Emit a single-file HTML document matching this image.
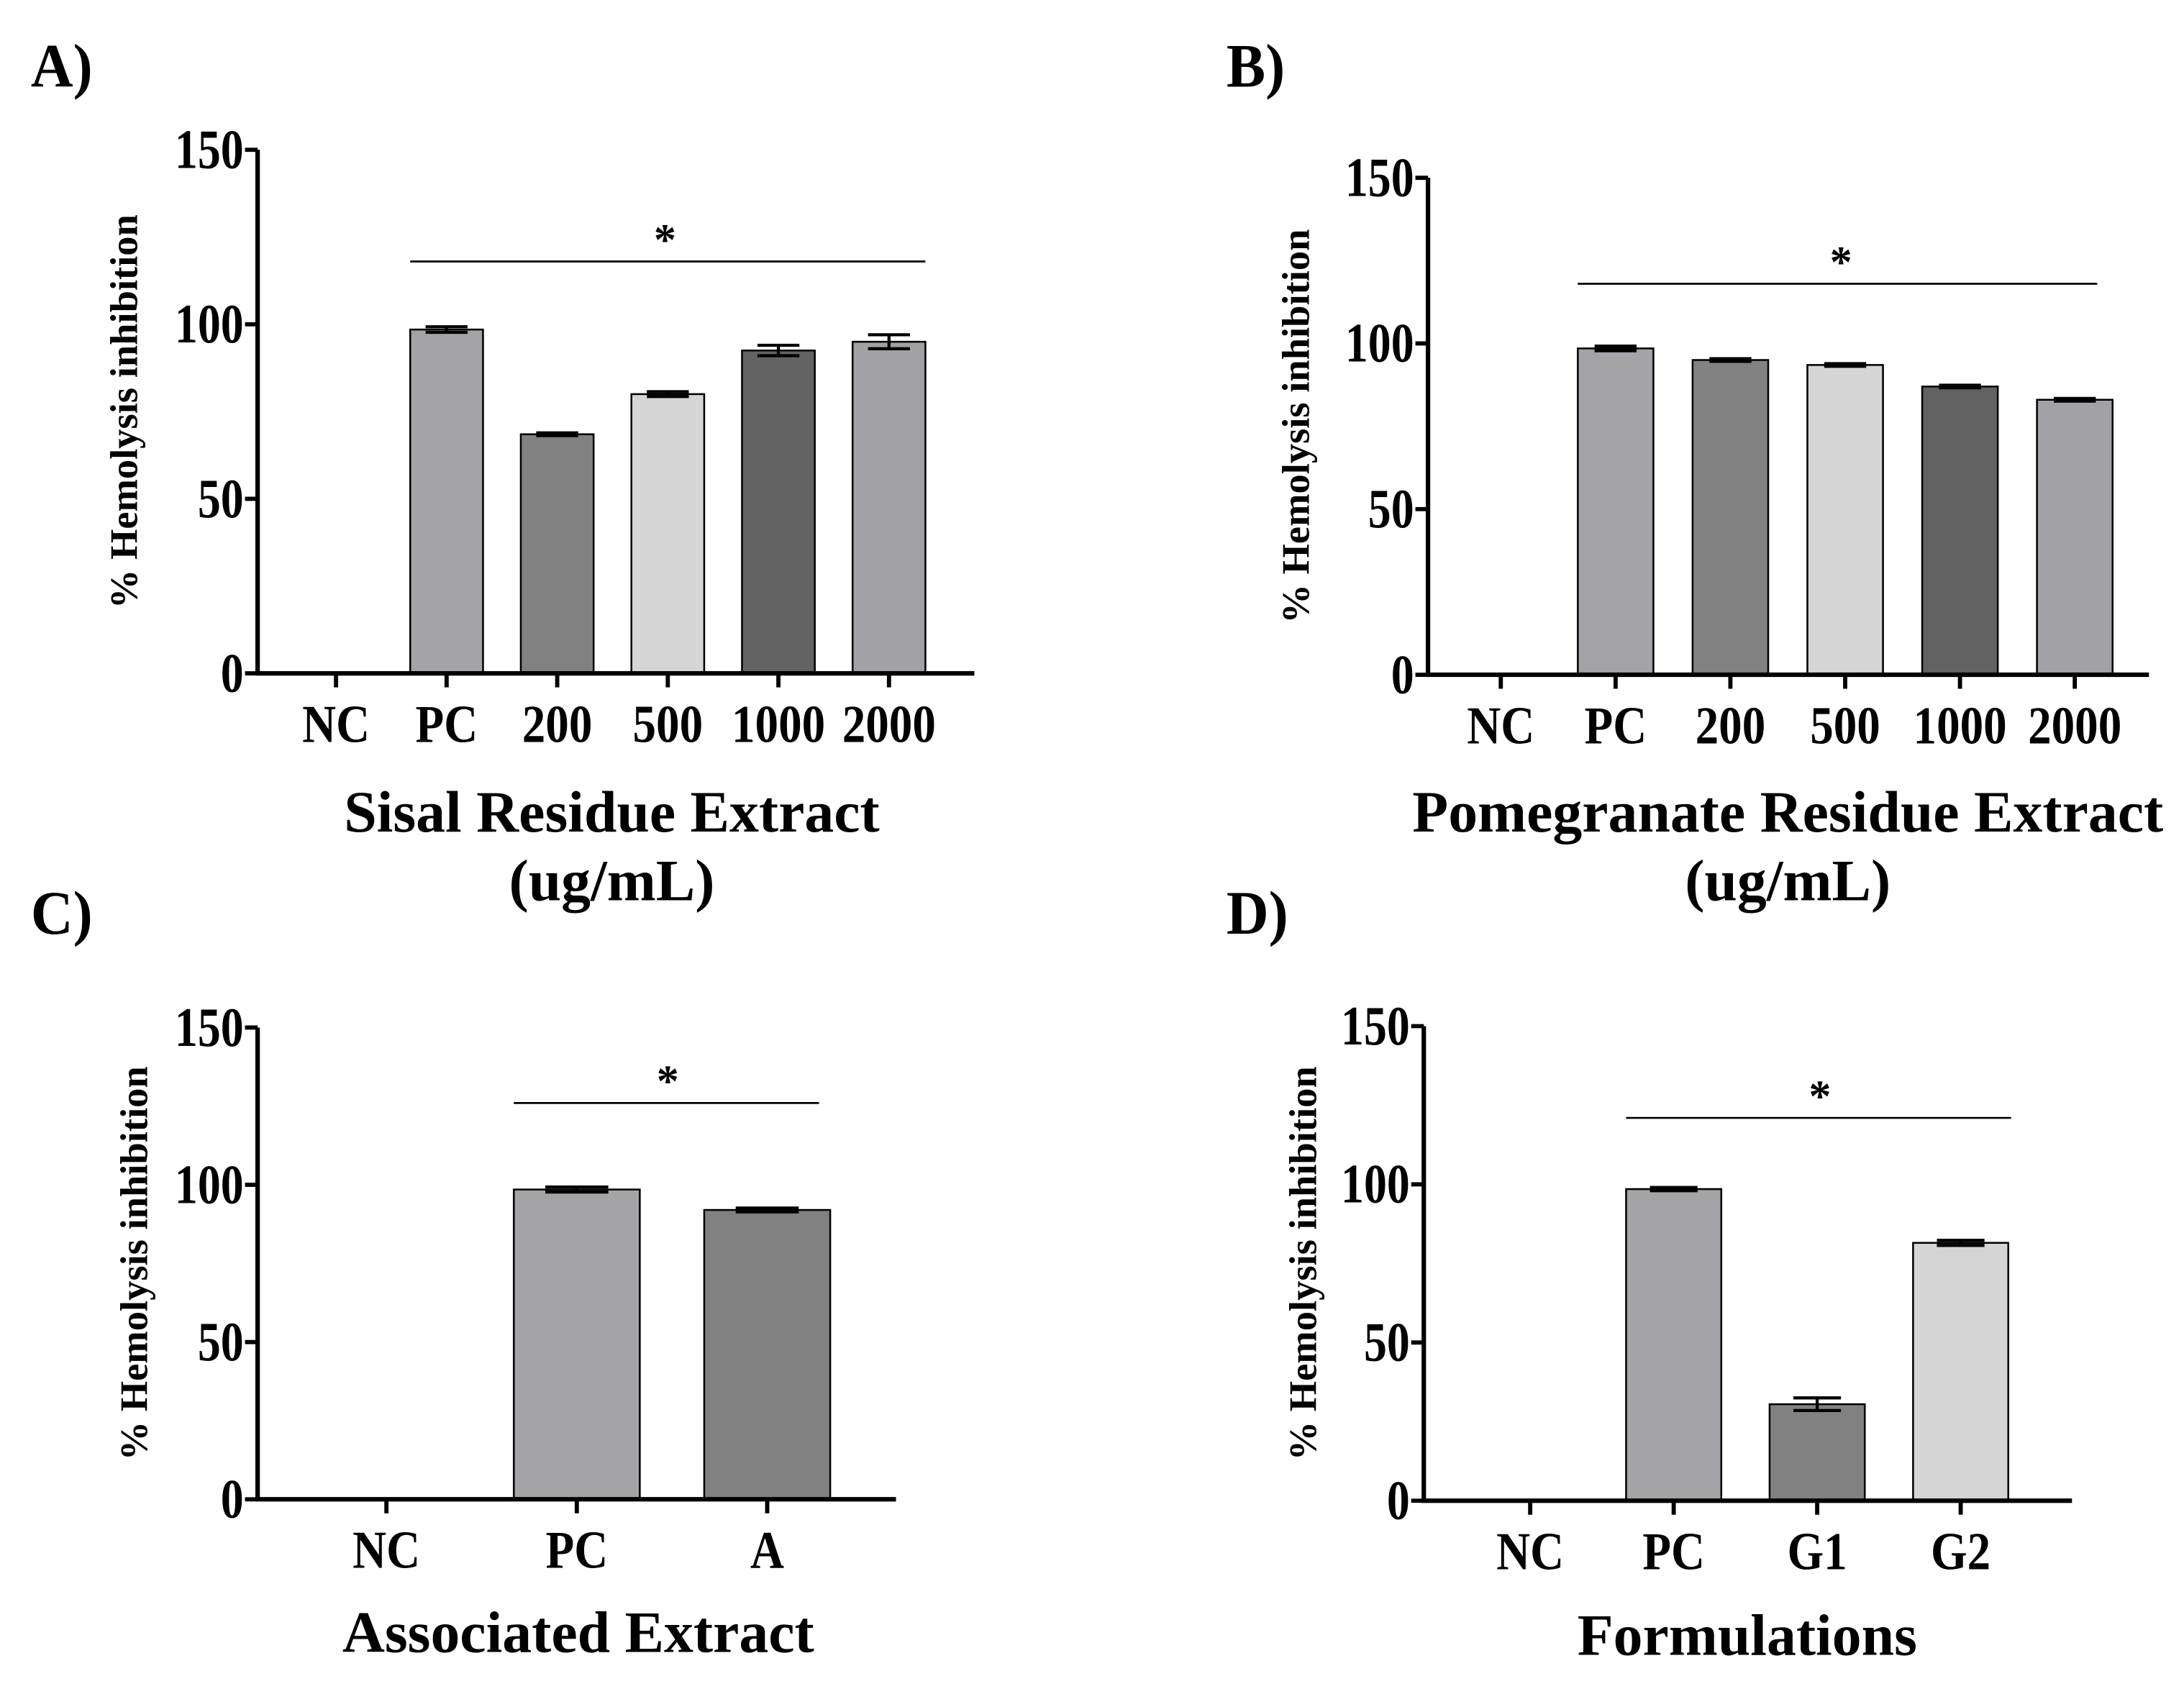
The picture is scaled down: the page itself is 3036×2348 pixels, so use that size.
<!DOCTYPE html>
<html><head><meta charset="utf-8"><style>
html,body{margin:0;padding:0;background:#fff;}
svg{display:block;font-family:"Liberation Serif",serif;font-weight:bold;}
</style></head><body>
<svg id="fig" width="3036" height="2348" viewBox="0 0 1560 1206.5" xmlns="http://www.w3.org/2000/svg"></svg>
<script>
const catsA = ["NC","PC","200","500","1000","2000"];
const valsA = [0,98.5,68.5,80,92.5,95];
const errsA = [0,0.8,0.4,0.7,1.5,2];
const catsB = ["NC","PC","200","500","1000","2000"];
const valsB = [0,98.5,95,93.5,87,83];
const errsB = [0,0.7,0.4,0.4,0.4,0.4];
const catsC = ["NC","PC","A"];
const valsC = [0,98.5,92];
const errsC = [0,0.8,0.6];
const catsD = ["NC","PC","G1","G2"];
const valsD = [0,98.5,30.5,81.5];
const errsD = [0,0.5,2,0.8];
const yTicks = [0,50,100,150];
const sigLevel = [118,118,126,121];

const NS="http://www.w3.org/2000/svg";
const svg=document.getElementById('fig');
function mk(tag,attrs,parent){const e=document.createElementNS(NS,tag);for(const k in attrs)e.setAttribute(k,attrs[k]);(parent||svg).appendChild(e);return e;}
function txt(parent,x,y,str,size,sx,anchor,rot){
  const t=mk('text',{x:0,y:0,'font-size':size,'text-anchor':anchor||'start',
    transform:`translate(${x},${y})${rot?' rotate(-90)':''} scale(${sx},1)`},parent);
  t.textContent=str;return t;
}

const colorsSix=["#fff","#a3a3a8","#818181","#d5d5d5","#626262","#a2a2a6"];
const colorsFour=["#fff","#a3a3a8","#818181","#d5d5d5"];

function panel(o){
  const g=mk('g',{});
  
  
  const y=v=>o.y0-(v/150)*(o.y0-o.y150);
  const x=i=>o.t0+i*o.step;
  const L=txt(g,o.lx,o.ly,o.id.toUpperCase()+')',44,0.95);
  
  
  o.vals.forEach((v,i)=>{
    if(v<=0)return;
    const b=mk('rect',{x:x(i)-o.bw/2,y:y(v),width:o.bw,height:o.y0-y(v),fill:o.colors[i],stroke:'#000','stroke-width':1.3},g);
    
    
    const e=o.errs[i];
    const eb=mk('path',{d:`M${x(i)-o.cw/2},${y(v+e)}H${x(i)+o.cw/2}M${x(i)},${y(v+e)}V${y(v-e)}M${x(i)-o.cw/2},${y(v-e)}H${x(i)+o.cw/2}`,stroke:'#000','stroke-width':2.2,fill:'none'},g);
    
    
  });
  const ya=mk('path',{d:`M${o.ax},${y(150)}V${o.y0}`,stroke:'#000','stroke-width':3.2,fill:'none'},g);
  
  
  const xa=mk('path',{d:`M${o.ax-1.5},${o.y0}H${o.xend}`,stroke:'#000','stroke-width':3.2,fill:'none'},g);
  
  
  yTicks.forEach(t=>{
    mk('path',{d:`M${o.ax-9},${y(t)}H${o.ax}`,stroke:'#000','stroke-width':3},g);
    const tl=txt(g,o.ax-10,y(t)+13,String(t),40,0.82,'end');
    
    
  });
  o.cats.forEach((c,i)=>{
    mk('path',{d:`M${x(i)},${o.y0}V${o.y0+10}`,stroke:'#000','stroke-width':3},g);
    const cl=txt(g,x(i),o.y0+49,c,38,0.88,'middle');
    
    
  });
  const yt=txt(g,o.ytx,(y(150)+o.y0)/2,'% Hemolysis inhibition',28,1,'middle',true);
  
  
  o.xt.forEach((t,k)=>{
    const xt=txt(g,o.xtx,o.xty+k*49,t,42,1,'middle');
    
    
  });
  const sy=y(o.sig);
  const sl=mk('path',{d:`M${x(1)-o.bw/2},${sy}H${x(o.cats.length-1)+o.sigEnd}`,stroke:'#000','stroke-width':1.4},g);
  
  
  const st=txt(g,o.starX,sy-5,'*',32,1,'middle');
  
  
}

panel({id:'a',cats:catsA,vals:valsA,errs:errsA,colors:colorsSix,ax:184,y0:481,y150:107,t0:240,step:79,bw:52,cw:30,xend:696,
  lx:22,ly:62,ytx:98,xt:['Sisal Residue Extract','(ug/mL)'],xtx:437,xty:594,sig:sigLevel[0],sigEnd:26,starX:475});
panel({id:'b',cats:catsB,vals:valsB,errs:errsB,colors:colorsSix,ax:1020,y0:482,y150:127,t0:1072,step:82,bw:54,cw:30,xend:1535,
  lx:876,ly:62,ytx:935,xt:['Pomegranate Residue Extract','(ug/mL)'],xtx:1277,xty:594,sig:sigLevel[1],sigEnd:16,starX:1315});
panel({id:'c',cats:catsC,vals:valsC,errs:errsC,colors:colorsFour,ax:184,y0:1071,y150:734,t0:276,step:136,bw:90,cw:45,xend:640,
  lx:22,ly:667,ytx:105,xt:['Associated Extract'],xtx:413,xty:1180,sig:sigLevel[2],sigEnd:37,starX:477});
panel({id:'d',cats:catsD,vals:valsD,errs:errsD,colors:colorsFour,ax:1017,y0:1072,y150:733,t0:1093,step:102.5,bw:68,cw:34,xend:1480,
  lx:876,ly:667,ytx:940,xt:['Formulations'],xtx:1248,xty:1182,sig:sigLevel[3],sigEnd:36,starX:1300});
</script>
</body></html>
